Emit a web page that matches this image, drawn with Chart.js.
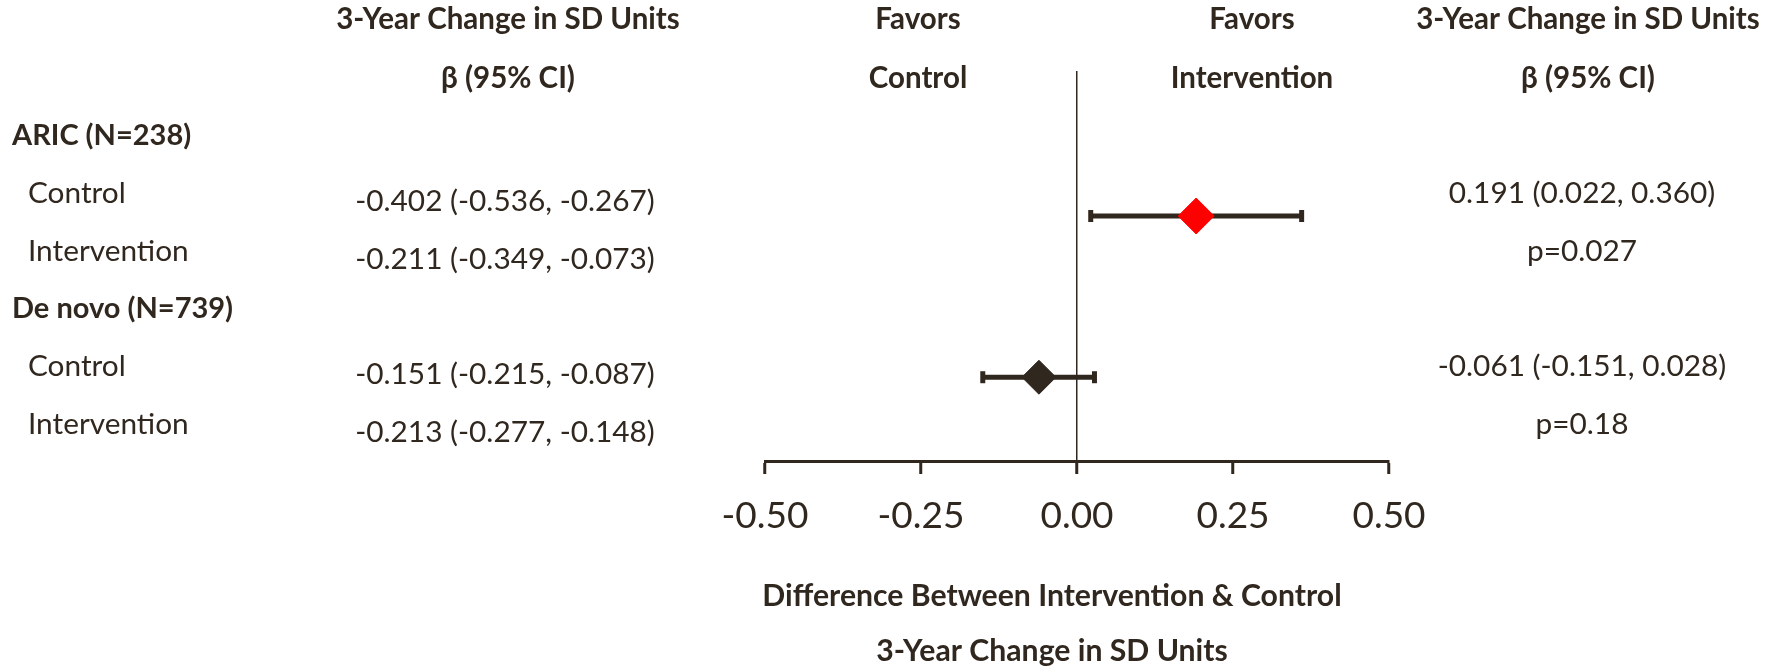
<!DOCTYPE html>
<html>
<head>
<meta charset="utf-8">
<script src="https://cdn.jsdelivr.net/npm/chart.js@4.4.0/dist/chart.umd.min.js"></script>
<style>
html,body{margin:0;padding:0;background:#ffffff;}
#wrap{width:1769px;height:666px;position:relative;}
</style>
</head>
<body>
<div id="wrap"><canvas id="c" width="1769" height="666"></canvas></div>
<script>
// ---- data ----
const groups = ['ARIC (N=238)', 'De novo (N=739)'];
const arms = ['Control', 'Intervention'];
const armBeta = [-0.402, -0.211, -0.151, -0.213];
const armLow  = [-0.536, -0.349, -0.215, -0.277];
const armHigh = [-0.267, -0.073, -0.087, -0.148];
const diffBeta = [0.191, -0.061];
const diffLow  = [0.022, -0.151];
const diffHigh = [0.360, 0.028];
const diffP    = ['0.027', '0.18'];
const xTicks = [-0.50, -0.25, 0.00, 0.25, 0.50];
const headerCol = ['3-Year Change in SD Units', 'β (95% CI)'];
const favorsLeft = ['Favors', 'Control'];
const favorsRight = ['Favors', 'Intervention'];
const axisTitle = ['Difference Between Intervention & Control', '3-Year Change in SD Units'];

// ---- style / layout ----
const INK = '#30271f';
const FONT = 'Lato, "Open Sans", sans-serif';
const REG = 29.8, BOLD = 29.5, GROUP = 29, TITLE = 30.2, TICK = 37;
const markerColors = ['#ff0000', INK];
const markerOffset = [1.41, 1.2];   // row placement of each group's estimate

const rowOf = (gi, ai) => gi * 3 + 1 + ai;
const diffRows = groups.map((g, gi) => gi * 3 + markerOffset[gi]);
const fmt = v => v.toFixed(3);

const datasets = [];
datasets.push({
  label: 'estimate',
  data: diffBeta.map((b, i) => ({x: b, y: diffRows[i]})),
  showLine: false,
  pointStyle: 'rectRot',
  pointRadius: [18, 17],
  pointBackgroundColor: markerColors,
  pointBorderColor: markerColors,
  pointBorderWidth: 1
});
diffBeta.forEach((b, i) => {
  datasets.push({
    label: 'ci' + i,
    data: [{x: diffLow[i], y: diffRows[i]}, {x: diffHigh[i], y: diffRows[i]}],
    showLine: true,
    borderColor: INK,
    borderWidth: 5,
    borderCapStyle: 'butt',
    tension: 0,
    pointStyle: 'line',
    pointRotation: 90,
    pointRadius: 6,
    pointBorderWidth: 5,
    pointBorderColor: INK,
    pointBackgroundColor: INK
  });
});

const tablePlugin = {
  id: 'tableText',
  afterDraw(chart) {
    const {ctx, scales} = chart;
    const y = scales.y;
    ctx.save();
    ctx.fillStyle = INK;
    ctx.textBaseline = 'alphabetic';
    const put = (t, x, yb, bold, size, align) => {
      ctx.font = (bold ? 'bold ' : '') + size + 'px ' + FONT;
      ctx.textAlign = align;
      ctx.fillText(t, x, yb);
    };
    const capOff = s => 0.358 * s;
    // column headers
    put(headerCol[0], 508, 29, true, BOLD, 'center');
    put(headerCol[1], 508, 88, true, BOLD, 'center');
    put(favorsLeft[0], 918, 29, true, BOLD, 'center');
    put(favorsLeft[1], 918, 88, true, BOLD, 'center');
    put(favorsRight[0], 1252, 29, true, BOLD, 'center');
    put(favorsRight[1], 1252, 88, true, BOLD, 'center');
    put(headerCol[0], 1588, 29, true, BOLD, 'center');
    put(headerCol[1], 1588, 88, true, BOLD, 'center');
    // rows
    groups.forEach((g, gi) => {
      const gy = y.getPixelForValue(gi * 3);
      put(g, 12, gy + capOff(GROUP), true, GROUP, 'left');
      arms.forEach((a, ai) => {
        const k = gi * 2 + ai;
        const ry = y.getPixelForValue(rowOf(gi, ai));
        put(a, 28, ry + capOff(REG), false, REG, 'left');
        const s = fmt(armBeta[k]) + ' (' + fmt(armLow[k]) + ', ' + fmt(armHigh[k]) + ')';
        put(s, 505, ry + 8 + capOff(REG), false, REG, 'center');
      });
      const r1 = y.getPixelForValue(rowOf(gi, 0));
      const r2 = y.getPixelForValue(rowOf(gi, 1));
      put(fmt(diffBeta[gi]) + ' (' + fmt(diffLow[gi]) + ', ' + fmt(diffHigh[gi]) + ')', 1582, r1 + capOff(REG), false, REG, 'center');
      put('p=' + diffP[gi], 1582, r2 + capOff(REG), false, REG, 'center');
    });
    // axis title
    put(axisTitle[0], 1052, 606, true, TITLE, 'center');
    put(axisTitle[1], 1052, 661, true, TITLE, 'center');
    ctx.restore();
  }
};

new Chart(document.getElementById('c'), {
  type: 'line',
  data: {datasets},
  plugins: [tablePlugin],
  options: {
    responsive: false,
    animation: false,
    events: [],
    layout: {padding: {left: 765, right: 380, top: 71, bottom: 0}},
    plugins: {legend: {display: false}, tooltip: {enabled: false}, title: {display: false}},
    scales: {
      x: {
        type: 'linear',
        min: -0.5, max: 0.5,
        afterBuildTicks: s => { s.ticks = xTicks.map(v => ({value: v})); },
        afterFit: s => { s.height = 205; },
        ticks: {
          font: {family: FONT, size: TICK},
          color: INK,
          padding: 20,
          autoSkip: false,
          maxRotation: 0,
          callback: v => Number(v).toFixed(2)
        },
        grid: {
          color: c => (c.tick && c.tick.value === 0) ? INK : 'rgba(0,0,0,0)',
          lineWidth: 1.5,
          drawTicks: true,
          tickLength: 13,
          tickColor: INK,
          tickWidth: 3
        },
        border: {display: true, color: INK, width: 3}
      },
      y: {
        type: 'linear',
        reverse: true,
        min: -1.1, max: 5.65,
        display: false
      }
    }
  }
});
</script>
</body>
</html>
